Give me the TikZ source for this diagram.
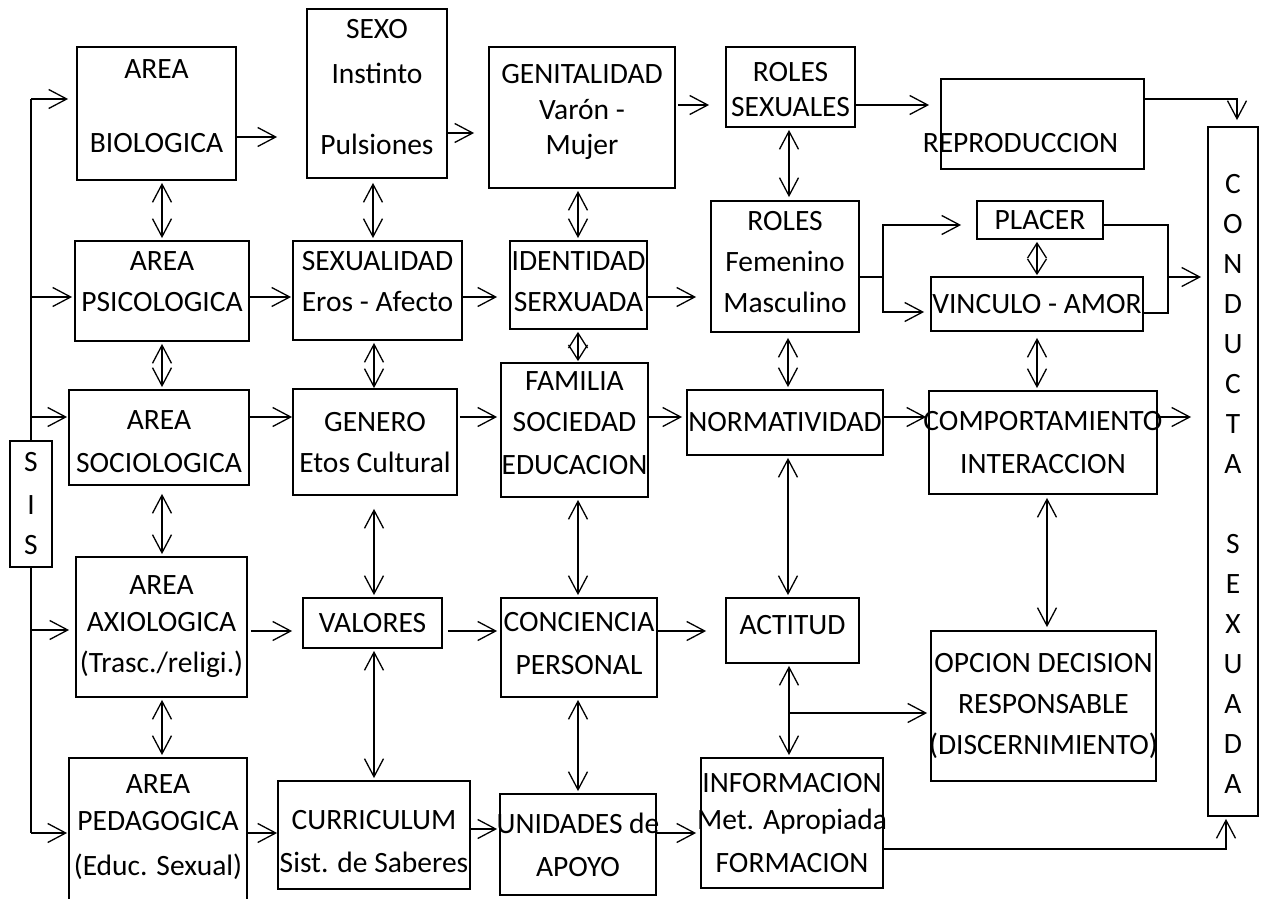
\documentclass[tikz,border=0pt]{standalone}
\usepackage{fontspec}
\setmainfont{Carlito}
\usetikzlibrary{arrows.meta}
\newcommand{\hgt}[1]{\rule{0pt}{#1}}
\newcommand{\dpt}[1]{\rule[-#1]{0pt}{#1}}

\begin{document}
\begin{tikzpicture}[x=1pt,y=-1pt,
  >={Straight Barb[length=18pt,width=19pt]},
  box/.style={draw,line width=1.8pt,inner ysep=0pt,inner xsep=-30pt,align=center,font=\fontsize{29.5}{41}\selectfont},
  arr/.style={->,line width=1.3pt},
  dbl/.style={<->,line width=1.3pt,shorten <=2pt,shorten >=2pt},
  diam/.style={dbl,>={Straight Barb[length=15pt,width=19pt]}},
  conn/.style={line width=1.3pt}]
\useasboundingbox (0,0) rectangle (1264,899);

% column 1
\node[box,minimum width=159pt,minimum height=133pt] (bio) at (156.5,113.5) {AREA\\[33pt]BIOLOGICA\dpt{14pt}};
\node[box,minimum width=174pt,minimum height=100pt] (psico) at (162,291) {AREA\\PSICOLOGICA\dpt{19pt}};
\node[box,minimum width=180pt,minimum height=95pt] (socio) at (159,437.5) {\hgt{28pt}AREA\\[2pt]SOCIOLOGICA};
\node[box,minimum width=171pt,minimum height=140pt] (axio) at (161.5,627) {AREA\\[-4pt]AXIOLOGICA\\(Trasc./religi.)};
\node[box,minimum width=178pt,minimum height=147pt] (pedago) at (158,831.5) {AREA\\[-4pt]PEDAGOGICA\\[4pt](Educ. Sexual)\dpt{12pt}};
\node[box,minimum width=42pt,minimum height=126pt] (sis) at (31,504) {S\\[2pt]I\\[-1pt]S};

% column 2
\node[box,minimum width=140pt,minimum height=169pt] (sexo) at (377,93.5) {SEXO\\[4pt]Instinto\\[30pt]Pulsiones\dpt{14pt}};
\node[box,minimum width=169pt,minimum height=99pt] (sexual) at (377.5,290.5) {SEXUALIDAD\\Eros - Afecto\dpt{18pt}};
\node[box,minimum width=164pt,minimum height=106pt] (genero) at (375,442) {\hgt{21pt}GENERO\\Etos Cultural};
\node[box,minimum width=139pt,minimum height=50pt] (valores) at (372.5,623) {VALORES};
\node[box,minimum width=192pt,minimum height=108pt] (curric) at (374,835) {\hgt{33pt}CURRICULUM\\[2pt]Sist. de Saberes};

% column 3
\node[box,minimum width=186pt,minimum height=141pt] (genit) at (582,117.5) {GENITALIDAD\\[-5pt]Varón -\\[-6pt]Mujer\dpt{17pt}};
\node[box,minimum width=137pt,minimum height=88pt] (ident) at (578.5,285) {IDENTIDAD\\SERXUADA\dpt{7pt}};
\node[box,minimum width=147pt,minimum height=134pt] (familia) at (574.5,430) {FAMILIA\\SOCIEDAD\\[2pt]EDUCACION\dpt{14pt}};
\node[box,minimum width=156pt,minimum height=99pt] (concien) at (579,647.5) {CONCIENCIA\\[2pt]PERSONAL\dpt{9pt}};
\node[box,minimum width=156pt,minimum height=101pt] (unid) at (578,844.5) {UNIDADES de\\[2pt]APOYO};

% column 4
\node[box,minimum width=129pt,minimum height=80pt] (rolsex) at (790.5,87) {\hgt{25pt}ROLES\\[-6pt]SEXUALES};
\node[box,minimum width=148pt,minimum height=131pt] (rolfem) at (785,266.5) {ROLES\\Femenino\\Masculino\dpt{10pt}};
\node[box,minimum width=196pt,minimum height=65pt] (norma) at (785,422.5) {NORMATIVIDAD};
\node[box,minimum width=133pt,minimum height=65pt] (actitud) at (792.5,630.5) {ACTITUD\dpt{12pt}};
\node[box,minimum width=182pt,minimum height=130pt] (inform) at (792,823) {\hgt{20pt}INFORMACION\\[-4pt]Met. Apropiada\\[2pt]FORMACION};

% column 5
\node[box,minimum width=203pt,minimum height=90pt] (repro) at (1042.5,124) {\hgt{58pt}REPRODUCCION\hspace*{44pt}};
\node[box,minimum width=126pt,minimum height=38pt] (placer) at (1040,220) {\hgt{20pt}PLACER};
\node[box,minimum width=212pt,minimum height=54pt] (vinculo) at (1037,304) {VINCULO - AMOR};
\node[box,minimum width=228pt,minimum height=103pt] (compor) at (1043,442.5) {COMPORTAMIENTO\\[2pt]INTERACCION};
\node[box,minimum width=225pt,minimum height=150pt] (opcion) at (1043.5,706) {OPCION DECISION\\RESPONSABLE\\(DISCERNIMIENTO)};
\node[box,minimum width=50pt,minimum height=689pt,font=\fontsize{29.5}{40}\selectfont] (conducta) at (1233,471.5)
  {\hgt{43pt}C\\O\\N\\D\\U\\C\\T\\A\\ \\S\\E\\X\\U\\A\\D\\A};

% SIS trunk
\draw[conn] (sis.north) -- (sis.north |- 0,99);
\draw[conn] (sis.south) -- (sis.south |- 0,833);
\draw[arr,shorten >=8pt] (sis.north |- 0,99) -- (bio.west |- 0,99);
\draw[arr,shorten >=2pt] (sis.north |- 0,297) -- (psico.west |- 0,297);
\draw[arr,shorten >=1pt] (sis.north |- 0,417) -- (socio.west |- 0,417);
\draw[arr,shorten >=6pt] (sis.south |- 0,630) -- (axio.west |- 0,630);
\draw[arr,shorten >=1pt] (sis.south |- 0,833) -- (pedago.west |- 0,833);

% rows
\draw[arr,shorten >=29pt] (bio.east |- 0,137) -- (sexo.west |- 0,137);
\draw[arr,shorten >=14pt] (sexo.east |- 0,133) -- (genit.west |- 0,133);
\draw[arr,shorten <=2pt,shorten >=16pt] (genit.east |- 0,105) -- (rolsex.west |- 0,105);
\draw[arr,shorten >=11pt] (rolsex.east |- 0,105) -- (repro.west |- 0,105);
\draw[arr,shorten >=6pt] (repro.east |- 0,99) -| ([xshift=4pt]conducta.north);

\draw[arr,shorten >=1pt] (psico.east |- 0,297) -- (sexual.west |- 0,297);
\draw[arr,shorten >=12pt] (sexual.east |- 0,297) -- (ident.west |- 0,297);
\draw[arr,shorten >=14pt] (ident.east |- 0,297) -- (rolfem.west |- 0,297);
\coordinate (fork) at (883,277);
\draw[conn] (rolfem.east |- fork) -- (fork);
\draw[arr,shorten >=15pt] (fork) |- (placer.west |- 0,225);
\draw[arr,shorten >=6pt] (fork) |- (vinculo.west |- 0,312);
\coordinate (join) at (1168,277);
\draw[conn] (placer.east |- 0,225) -| (1168,313) -- (vinculo.east |- 0,313);
\draw[arr,shorten >=6pt] (join) -- (conducta.west |- join);

\draw[arr] (socio.east |- 0,417) -- (genero.west |- 0,417);
\draw[arr,shorten <=2pt,shorten >=3pt] (genero.east |- 0,417) -- (familia.west |- 0,417);
\draw[arr,shorten >=4pt] (familia.east |- 0,417) -- (norma.west |- 0,417);
\draw[arr,shorten >=2pt] (norma.east |- 0,417) -- (compor.west |- 0,417);
\draw[arr,shorten >=16pt] (compor.east |- 0,417) -- (conducta.west |- 0,417);

\draw[arr,shorten <=3pt,shorten >=10pt] (axio.east |- 0,631) -- (valores.west |- 0,631);
\draw[arr,shorten <=5pt,shorten >=3pt] (valores.east |- 0,631) -- (concien.west |- 0,631);
\draw[arr,shorten >=19pt] (concien.east |- 0,631) -- (actitud.west |- 0,631);
\coordinate (br) at (789,713);
\draw[arr,shorten >=3pt] (br) -- (opcion.west |- br);

\draw[arr] (pedago.east |- 0,833) -- (curric.west |- 0,833);
\draw[arr,shorten >=2pt] (curric.east |- 0,829) -- (unid.west |- 0,829);
\draw[arr,shorten >=4pt] (unid.east |- 0,833) -- (inform.west |- 0,833);
\draw[arr,shorten >=2pt] (inform.east |- 0,849) -| ([xshift=-7pt]conducta.south);

% columns
\draw[dbl] (bio.south -| 162,0) -- (psico.north -| 162,0);
\draw[dbl] (psico.south -| 162,0) -- (socio.north -| 162,0);
\draw[dbl,shorten <=8pt] (socio.south -| 162,0) -- (axio.north -| 162,0);
\draw[dbl] (axio.south -| 162,0) -- (pedago.north -| 162,0);
\draw[dbl,shorten <=4pt] (sexo.south -| 373,0) -- (sexual.north -| 373,0);
\draw[dbl,shorten >=0pt] (sexual.south -| 374,0) -- (genero.north -| 374,0);
\draw[dbl,shorten <=13pt] (genero.south -| 374,0) -- (valores.north -| 374,0);
\draw[dbl] (valores.south -| 374,0) -- (curric.north -| 374,0);
\draw[dbl] (genit.south -| 578,0) -- (ident.north -| 578,0);
\draw[diam,shorten <=2pt,shorten >=1pt] (ident.south -| 578,0) -- (familia.north -| 578,0);
\draw[dbl] (familia.south -| 578,0) -- (concien.north -| 578,0);
\draw[dbl] (concien.south -| 578,0) -- (unid.north -| 578,0);
\draw[dbl,shorten >=3pt] (rolsex.south -| 789,0) -- (rolfem.north -| 789,0);
\draw[dbl,shorten <=5pt] (rolfem.south -| 788,0) -- (norma.north -| 788,0);
\draw[dbl] (norma.south -| 788,0) -- (actitud.north -| 788,0);
\draw[dbl] (actitud.south -| 789,0) -- (inform.north -| 789,0);
\draw[diam,shorten <=2pt,shorten >=1pt] (placer.south -| 1037,0) -- (vinculo.north -| 1037,0);
\draw[dbl,shorten <=6pt] (vinculo.south -| 1037,0) -- (compor.north -| 1037,0);
\draw[dbl,shorten <=3pt,shorten >=3pt] (compor.south -| 1047,0) -- (opcion.north -| 1047,0);
\end{tikzpicture}
\end{document}
